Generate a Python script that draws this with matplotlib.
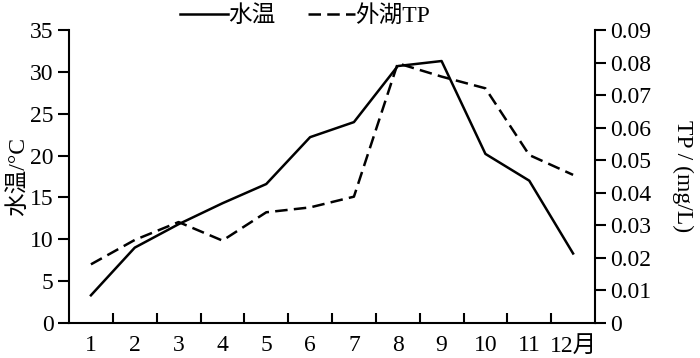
import numpy as np
import matplotlib
matplotlib.use("Agg")
import matplotlib.pyplot as plt

plt.rcParams['font.family'] = ['Liberation Serif', 'Noto Sans CJK SC']
plt.rcParams['font.size'] = 17

months = ['1', '2', '3', '4', '5', '6', '7', '8', '9', '10', '11', '12月']
water_temp = [3.3, 9.0, 11.8, 14.3, 16.6, 22.2, 24.0, 30.7, 31.3, 20.2, 17.0, 8.3]
tp = [0.018, 0.0255, 0.031, 0.0253, 0.034, 0.0355, 0.0388, 0.0798, 0.0757, 0.0721, 0.0516, 0.0455]

x = np.arange(len(months)) + 0.5

fig = plt.figure(figsize=(7, 3.58), dpi=100)
ax = fig.add_axes([0.0986, 0.098, 0.7514, 0.818])
ax2 = ax.twinx()

l1, = ax.plot(x, water_temp, color='black', lw=1.8, label='水温')
l2, = ax2.plot(x, tp, color='black', lw=1.8, dashes=(5, 2.5), label='外湖TP')

ax.set_xlim(0, 12)
ax.set_ylim(0, 35)
ax2.set_ylim(0, 0.09)
ax.set_yticks(np.arange(0, 36, 5))
ax2.set_yticks(np.arange(0, 0.091, 0.01))
ax2.set_yticklabels(['0'] + ['%.2f' % v for v in np.arange(0.01, 0.091, 0.01)])

# ticks at month boundaries, labels at month centers
ax.set_xticks(np.arange(1, 12))
ax.set_xticklabels([])
ax.set_xticks(x, minor=True)
ax.set_xticklabels(months, minor=True)
ax.tick_params(axis='x', which='major', direction='in', length=7, width=1.5)
ax.tick_params(axis='x', which='minor', length=0, pad=9)
ax.tick_params(axis='y', direction='out', length=8, width=1.5, pad=3)
ax2.tick_params(axis='y', direction='out', length=8, width=1.5, pad=3)

for a in (ax, ax2):
    a.spines['top'].set_visible(False)
    for s in ('left', 'right', 'bottom'):
        a.spines[s].set_linewidth(1.5)
ax.spines['right'].set_visible(False)
ax2.spines['left'].set_visible(False)
ax2.spines['bottom'].set_visible(False)

ax.set_ylabel('水温/°C', labelpad=1)
ax2.set_ylabel('TP / (mg/L)', rotation=270, labelpad=30)

fig.legend(handles=[l1, l2], loc='center', bbox_to_anchor=(0.436, 0.955), ncol=2,
           frameon=False, handlelength=2, handletextpad=0, columnspacing=1.4,
           borderpad=0, borderaxespad=0)

fig.savefig('out.png', dpi=100)
